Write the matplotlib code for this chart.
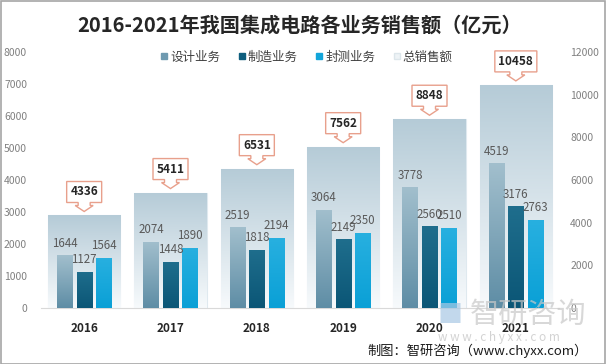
import numpy as np
import matplotlib
matplotlib.use("Agg")
import matplotlib.pyplot as plt
import matplotlib.transforms as mtransforms
from matplotlib.colors import LinearSegmentedColormap
from matplotlib.patches import Polygon
from matplotlib.lines import Line2D

plt.rcParams["font.family"] = ["Noto Sans CJK SC", "DejaVu Sans"]

years = ["2016", "2017", "2018", "2019", "2020", "2021"]
design = [1644, 2074, 2519, 3064, 3778, 4519]
manufacture = [1127, 1448, 1818, 2149, 2560, 3176]
packaging = [1564, 1890, 2194, 2350, 2510, 2763]
total = [4336, 5411, 6531, 7562, 8848, 10458]
series_names = ["设计业务", "制造业务", "封测业务", "总销售额"]

TEXT_GRAY = "#595959"
TICK_GRAY = "#808080"
CALLOUT_EDGE = "#e8a08c"


def gradient_fill(ax, bars, top_color, bottom_color, zorder):
    """Replace each bar's flat face with a vertical gradient clipped to the bar."""
    cmap = LinearSegmentedColormap.from_list("g", [bottom_color, top_color])
    grad = np.linspace(0, 1, 256).reshape(-1, 1)
    for p in bars.patches:
        x0, y0 = p.get_x(), p.get_y()
        w, h = p.get_width(), p.get_height()
        im = ax.imshow(grad, cmap=cmap, origin="lower", aspect="auto",
                       extent=(x0, x0 + w, y0, y0 + h), zorder=zorder)
        im.set_clip_path(p)
        p.set_facecolor("none")


fig = plt.figure(figsize=(6.06, 3.64), dpi=100)
ax_tot = fig.add_axes([41 / 606, 1 - 308 / 364, 518 / 606, 256 / 364])
ax = ax_tot.twinx()

x = np.arange(len(years))

# background totals (right axis)
bg = ax_tot.bar(x, total, width=0.84, color="#c9dae3", edgecolor="#dfe9ef",
                linewidth=0.8, zorder=1)
gradient_fill(ax_tot, bg, "#b5cbd7", "#f7fafc", 1)

# business bars (left axis)
bw, off = 0.175, 0.226
b1 = ax.bar(x - off, design, width=bw, color="#7fa5b8", zorder=3)
gradient_fill(ax, b1, "#a2bfcd", "#5e8da5", 3)
b2 = ax.bar(x, manufacture, width=bw, color="#0e5e7e", zorder=3)
gradient_fill(ax, b2, "#1f6e8d", "#0b5676", 3)
b3 = ax.bar(x + off, packaging, width=bw, color="#12a5da", zorder=3)
gradient_fill(ax, b3, "#28b0e0", "#0aa0d6", 3)

for bars, vals in ((b1, design), (b2, manufacture), (b3, packaging)):
    for p, v in zip(bars.patches, vals):
        ax.annotate(f"{v}", (p.get_x() + p.get_width() / 2, v),
                    xytext=(0, 4), textcoords="offset points",
                    ha="center", va="bottom", fontsize=8.3, color=TEXT_GRAY, zorder=5)

ax_tot.set_xlim(-0.5, len(years) - 0.5)
ax_tot.set_ylim(0, 12000)
ax.set_ylim(0, 8000)
ax.set_xlim(-0.5, len(years) - 0.5)

# callouts above totals: box + down arrow, drawn in pixel units
bx_w, bx_h = 35, 21
shaft, head = 6, 9
verts = np.array([
    (-bx_w / 2, 0), (bx_w / 2, 0), (bx_w / 2, -bx_h), (shaft, -bx_h),
    (shaft, -bx_h - 3), (head, -bx_h - 3), (0, -bx_h - 9), (-head, -bx_h - 3),
    (-shaft, -bx_h - 3), (-shaft, -bx_h), (-bx_w / 2, -bx_h),
])
for xi, t in zip(x, total):
    w = bx_w + (7 if t >= 10000 else 0)
    v = verts.copy()
    v[[0, 10], 0] = -w / 2
    v[[1, 2], 0] = w / 2
    top = bx_h + 9 + 4
    trans = mtransforms.Affine2D().translate(0, top) + \
        mtransforms.ScaledTranslation(xi, t, ax_tot.transData)
    poly = Polygon(v, closed=True, facecolor="white", edgecolor=CALLOUT_EDGE,
                   linewidth=1.0, transform=trans, zorder=6, clip_on=False)
    ax.add_patch(poly)
    ax.text(0, -bx_h / 2, f"{t}", transform=trans, ha="center", va="center",
            fontsize=8.5, fontweight="bold", color="#262626", zorder=7)

# axes styling
for a in (ax_tot, ax):
    for s in a.spines.values():
        s.set_visible(False)
    a.tick_params(length=0)
ax_tot.spines["bottom"].set_visible(True)
ax_tot.spines["bottom"].set_color("#d9d9d9")
ax_tot.yaxis.tick_right()
ax.yaxis.tick_left()
ax_tot.set_yticks(np.arange(0, 12001, 2000))
ax.set_yticks(np.arange(0, 8001, 1000))
ax_tot.tick_params(axis="y", labelsize=7.5, labelcolor=TICK_GRAY, pad=8)
ax.tick_params(axis="y", labelsize=7.5, labelcolor=TICK_GRAY, pad=10)
ax_tot.set_xticks(x)
ax_tot.set_xticklabels(years, fontsize=8.5, fontweight="bold", color="#262626")
ax_tot.tick_params(axis="x", pad=10)

# title and legend
fig.text(0.495, 1 - 25 / 364, "2016-2021年我国集成电路各业务销售额（亿元）",
         ha="center", va="center", fontsize=14.5, fontweight="bold", color="#262626")
handles = [
    Line2D([], [], marker="s", linestyle="", markersize=5, color="#6f9ab0"),
    Line2D([], [], marker="s", linestyle="", markersize=5, color="#0e5e7e"),
    Line2D([], [], marker="s", linestyle="", markersize=5, color="#12a5da"),
    Line2D([], [], marker="s", linestyle="", markersize=5, color="#eef3f6",
           markeredgecolor="#dde6eb"),
]
fig.legend(handles, series_names, loc="center", bbox_to_anchor=(0.505, 1 - 57 / 364),
           ncol=4, frameon=False, fontsize=9, handletextpad=0.1, columnspacing=1.3,
           handlelength=0.8, labelcolor="#404040")

# watermark and source
fig.text(0.775, 1 - 315 / 364, "智研咨询", ha="left", va="center", fontsize=21,
         color="#c8c8c8", alpha=0.7, zorder=0)
fig.text(0.722, 1 - 315 / 364, "■", ha="left", va="center", fontsize=18,
         color="#a9c8e4", alpha=0.7)
fig.text(0.722, 1 - 338 / 364, "w w w . c h y x x . c o m", ha="left", va="center",
         fontsize=8.5, color="#c8c8c8", alpha=0.8)
fig.text(0.97, 1 - 351 / 364, "制图：智研咨询（www.chyxx.com）", ha="right", va="center",
         fontsize=9.5, color="#1a1a1a")

# thin outer frame
fig.add_artist(plt.Rectangle((0.001, 0.001), 0.997, 0.996, transform=fig.transFigure,
                             fill=False, edgecolor="#a6a6a6", linewidth=1.2))

fig.savefig("out.png", dpi=100)
